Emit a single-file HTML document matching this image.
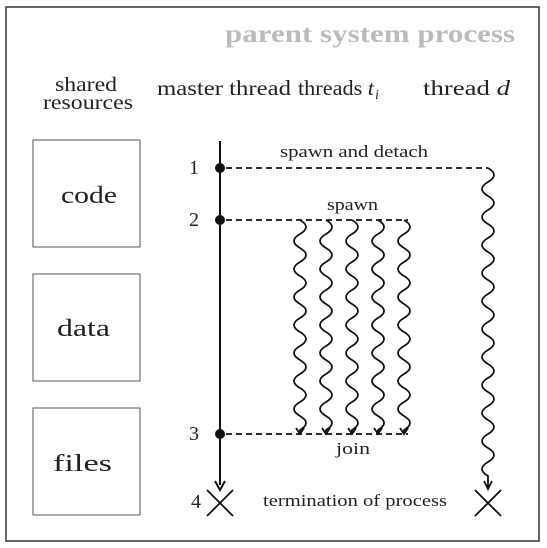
<!DOCTYPE html>
<html><head><meta charset="utf-8"><style>
html,body{margin:0;padding:0;background:#fff;}
svg{display:block;}
text{font-family:"Liberation Serif",serif;fill:#222;}
</style></head><body>
<svg width="547" height="548" viewBox="0 0 547 548" xmlns="http://www.w3.org/2000/svg">
<rect x="6" y="7" width="533" height="534" fill="none" stroke="#333" stroke-width="1.5"/>
<text x="225" y="42" font-size="25" font-weight="bold" style="fill:#bbb" textLength="290" lengthAdjust="spacingAndGlyphs">parent system process</text>
<text x="55" y="91" font-size="20" textLength="62" lengthAdjust="spacingAndGlyphs">shared</text>
<text x="43" y="109" font-size="20" textLength="90" lengthAdjust="spacingAndGlyphs">resources</text>
<text x="157" y="95" font-size="21" textLength="134" lengthAdjust="spacingAndGlyphs">master thread</text>
<text x="298" y="95" font-size="21" textLength="76" lengthAdjust="spacingAndGlyphs">threads <tspan font-style="italic">t</tspan></text>
<text x="375" y="99" font-size="14" font-style="italic">i</text>
<text x="423" y="95" font-size="21" textLength="87" lengthAdjust="spacingAndGlyphs">thread <tspan font-style="italic">d</tspan></text>
<g fill="none" stroke="#555" stroke-width="1">
<rect x="33" y="140" width="107" height="107"/>
<rect x="33" y="274" width="107" height="107"/>
<rect x="33" y="408" width="107" height="107"/>
</g>
<text x="61" y="203" font-size="24" textLength="56" lengthAdjust="spacingAndGlyphs">code</text>
<text x="57" y="336" font-size="24" textLength="53" lengthAdjust="spacingAndGlyphs">data</text>
<text x="53" y="471" font-size="24" textLength="59" lengthAdjust="spacingAndGlyphs">files</text>
<line x1="220" y1="141" x2="220" y2="485" stroke="#111" stroke-width="2"/>
<path d="M215 481 L220 490 L225 481" fill="none" stroke="#111" stroke-width="2"/>
<g stroke="#111" stroke-width="1.8" fill="none">
<line x1="207" y1="490" x2="233" y2="516"/><line x1="233" y1="490" x2="207" y2="516"/>
<line x1="475" y1="490" x2="501" y2="516"/><line x1="501" y1="490" x2="475" y2="516"/>
</g>
<g fill="#111"><circle cx="220" cy="168" r="5"/><circle cx="220" cy="220" r="5"/><circle cx="220" cy="434" r="5"/></g>
<g stroke="#111" stroke-width="1.8" stroke-dasharray="6,4" fill="none">
<line x1="226" y1="168" x2="488" y2="168"/>
<line x1="226" y1="220" x2="408" y2="220"/>
<line x1="226" y1="434" x2="408" y2="434"/>
</g>
<text x="199" y="174" font-size="20" text-anchor="end">1</text>
<text x="199" y="226" font-size="20" text-anchor="end">2</text>
<text x="199" y="440" font-size="20" text-anchor="end">3</text>
<text x="201" y="508" font-size="20" text-anchor="end">4</text>
<text x="280" y="157" font-size="17" textLength="148" lengthAdjust="spacingAndGlyphs">spawn and detach</text>
<text x="327" y="210" font-size="17" textLength="51" lengthAdjust="spacingAndGlyphs">spawn</text>
<text x="336" y="454" font-size="17" textLength="34" lengthAdjust="spacingAndGlyphs">join</text>
<text x="263" y="506" font-size="17" textLength="184" lengthAdjust="spacingAndGlyphs">termination of process</text>
<g fill="none" stroke="#111" stroke-width="1.8">
<path id="w" d="M300 220 q12 7 0 14 t0 14 t0 14 t0 14 t0 14 t0 14 t0 14 t0 14 t0 14 t0 14 t0 14 t0 14 t0 14 t0 14 t0 14 l0 3"/>
<use href="#w" x="26"/><use href="#w" x="52"/><use href="#w" x="78"/><use href="#w" x="104"/>
<path d="M488 168 q12 7 0 14 t0 14 t0 14 t0 14 t0 14 t0 14 t0 14 t0 14 t0 14 t0 14 t0 14 t0 14 t0 14 t0 14 t0 14 t0 14 t0 14 t0 14 t0 14 t0 14 t0 14 t0 14 l0 12"/>
</g>
<g fill="none" stroke="#111" stroke-width="1.8">
<path d="M296 428 l4 6 l4 -6"/><path d="M322 428 l4 6 l4 -6"/><path d="M348 428 l4 6 l4 -6"/><path d="M374 428 l4 6 l4 -6"/><path d="M400 428 l4 6 l4 -6"/>
<path d="M484 481 l4 8 l4 -8"/>
</g>
</svg>
</body></html>
